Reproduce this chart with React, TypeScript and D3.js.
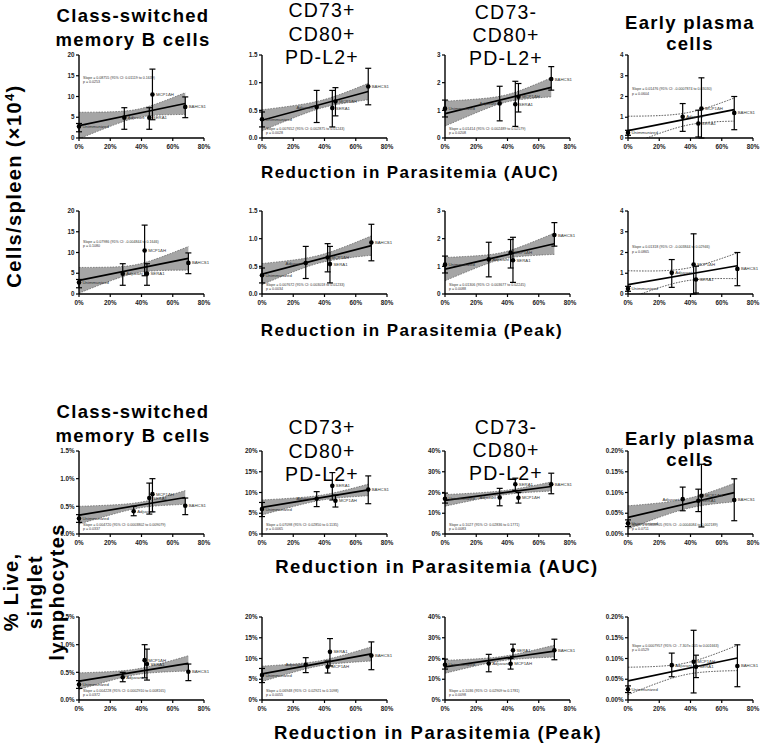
import React from "react";
import * as d3 from "d3";

// ---------- data ----------
const groups = ["Unimmunized", "Adjuvant", "SERA1", "MCP1ΔH", "BAHCS1"];
const xAuc = [0, 35, 45, 47, 68];
const xAucCsm = [0, 29, 45, 47, 68];
const xPeak = [0, 28, 43.5, 42, 70];
const xTickValues = [0, 20, 40, 60, 80];
const xTickLabels = ["0%", "20%", "40%", "60%", "80%"];

// Cells/spleen (x10^4)
const csmCells = [2.8, 4.9, 4.9, 10.5, 7.5];
const csmCellsLow = [1.5, 2.1, 2.1, 4.4, 4.9];
const csmCellsHigh = [3.5, 7.3, 7.3, 16.6, 9.9];
const cd73pCells = [0.34, 0.56, 0.54, 0.66, 0.93];
const cd73pCellsLow = [0.2, 0.28, 0.2, 0.4, 0.6];
const cd73pCellsHigh = [0.47, 0.86, 0.86, 0.91, 1.26];
const cd73nCells = [1.06, 1.25, 1.22, 1.49, 2.13];
const cd73nCellsLow = [0.76, 0.62, 0.42, 0.94, 1.73];
const cd73nCellsHigh = [1.37, 1.87, 2.05, 1.97, 2.58];
const epCells = [0.25, 1.02, 0.7, 1.42, 1.21];
const epCellsLow = [0.13, 0.32, 0.05, 0.0, 0.4];
const epCellsHigh = [0.37, 1.66, 1.34, 2.9, 2.0];

// % live, singlet lymphocytes
const csmPct = [0.28, 0.41, 0.65, 0.72, 0.51];
const csmPctLow = [0.21, 0.33, 0.36, 0.4, 0.35];
const csmPctHigh = [0.35, 0.5, 0.92, 1.0, 0.65];
const cd73pPct = [6.0, 8.5, 11.6, 8.0, 10.7];
const cd73pPctLow = [4.2, 6.6, 8.2, 6.5, 7.3];
const cd73pPctHigh = [7.6, 10.2, 14.8, 9.4, 14.0];
const cd73nPct = [17.0, 17.6, 24.0, 17.5, 24.0];
const cd73nPctLow = [14.9, 13.6, 21.0, 14.9, 19.4];
const cd73nPctHigh = [19.7, 22.0, 26.9, 20.0, 29.3];
const epPct = [0.026, 0.084, 0.08, 0.092, 0.082];
const epPctLow = [0.018, 0.056, 0.054, 0.017, 0.032];
const epPctHigh = [0.034, 0.113, 0.108, 0.168, 0.133];

// linear fits [intercept, slope]
const fitCsmCellsAuc = [3.0, 0.078];
const fitCd73pCellsAuc = [0.32, 0.00765];
const fitCd73nCellsAuc = [0.88, 0.014];
const fitEpCellsAuc = [0.35, 0.015];
const fitCsmCellsPeak = [3.3, 0.0757];
const fitCd73pCellsPeak = [0.36, 0.00736];
const fitCd73nCellsPeak = [0.9, 0.0131];
const fitEpCellsPeak = [0.45, 0.013];
const fitCsmPctAuc = [0.34, 0.0047];
const fitCd73pPctAuc = [6.4, 0.062];
const fitCd73nPctAuc = [16.2, 0.0985];
const fitEpPctAuc = [0.04, 0.00088];
const fitCsmPctPeak = [0.34, 0.0046];
const fitCd73pPctPeak = [6.3, 0.0686];
const fitCd73nPctPeak = [16.0, 0.108];
const fitEpPctPeak = [0.046, 0.00079];

// 95% CI half-width [at mean x, at x = 0]
const ciCsmCellsAuc = [1.0, 3.2];
const ciCd73pCellsAuc = [0.07, 0.19];
const ciCd73nCellsAuc = [0.13, 0.45];
const ciEpCellsAuc = [0.3, 0.7];
const ciCsmCellsPeak = [1.0, 3.1];
const ciCd73pCellsPeak = [0.07, 0.19];
const ciCd73nCellsPeak = [0.12, 0.42];
const ciEpCellsPeak = [0.3, 0.67];
const ciCsmPctAuc = [0.05, 0.16];
const ciCd73pPctAuc = [0.6, 1.8];
const ciCd73nPctAuc = [1.0, 2.8];
const ciEpPctAuc = [0.012, 0.028];
const ciCsmPctPeak = [0.05, 0.15];
const ciCd73pPctPeak = [0.6, 1.85];
const ciCd73nPctPeak = [1.0, 3.1];
const ciEpPctPeak = [0.014, 0.033];

// y ticks
const csmCellsTicks = [0, 5, 10, 15, 20];
const csmCellsTickLabels = ["0", "5", "10", "15", "20"];
const cd73pCellsTicks = [0, 0.5, 1, 1.5];
const cd73pCellsTickLabels = ["0.0", "0.5", "1.0", "1.5"];
const cd73nCellsTicks = [0, 1, 2, 3];
const cd73nCellsTickLabels = ["0", "1", "2", "3"];
const epCellsTicks = [0, 1, 2, 3, 4];
const epCellsTickLabels = ["0", "1", "2", "3", "4"];
const csmPctTicks = [0, 0.5, 1, 1.5];
const csmPctTickLabels = ["0.0%", "0.5%", "1.0%", "1.5%"];
const cd73pPctTicks = [0, 5, 10, 15, 20];
const cd73pPctTickLabels = ["0%", "5%", "10%", "15%", "20%"];
const cd73nPctTicks = [0, 10, 20, 30, 40];
const cd73nPctTickLabels = ["0%", "10%", "20%", "30%", "40%"];
const epPctTicks = [0, 0.05, 0.1, 0.15, 0.2];
const epPctTickLabels = ["0.00%", "0.05%", "0.10%", "0.15%", "0.20%"];

// regression annotations
const noteCsmCellsAuc = ["Slope = 0.08755 (95% CI: 0.01119 to 0.1639)", "p = 0.0253"];
const noteCd73pCellsAuc = ["Slope = 0.007652 (95% CI: 0.002875 to 0.01243)", "p = 0.0028"];
const noteCd73nCellsAuc = ["Slope = 0.01414 (95% CI: 0.002489 to 0.02579)", "p = 0.0208"];
const noteEpCellsAuc = ["Slope = 0.01476 (95% CI: -0.0007874 to 0.03030)", "p = 0.0604"];
const noteCsmCellsPeak = ["Slope = 0.07986 (95% CI: -0.004844 to 0.1646)", "p = 0.1080"];
const noteCd73pCellsPeak = ["Slope = 0.007672 (95% CI: 0.003018 to 0.01233)", "p = 0.0034"];
const noteCd73nCellsPeak = ["Slope = 0.01306 (95% CI: 0.003677 to 0.02245)", "p = 0.0088"];
const noteEpCellsPeak = ["Slope = 0.01318 (95% CI: -0.003844 to 0.02946)", "p = 0.0865"];
const noteCsmPctAuc = ["Slope = 0.004720 (95% CI: 0.0003802 to 0.009079)", "p = 0.0337"];
const noteCd73pPctAuc = ["Slope = 0.07098 (95% CI: 0.02850 to 0.1135)", "p = 0.0065"];
const noteCd73nPctAuc = ["Slope = 0.1027 (95% CI: 0.02836 to 0.1771)", "p = 0.0083"];
const noteEpPctAuc = ["Slope = 0.0008905 (95% CI: -0.0004084 to 0.002189)", "p = 0.0711"];
const noteCsmPctPeak = ["Slope = 0.004228 (95% CI: 0.0002910 to 0.008165)", "p = 0.0372"];
const noteCd73pPctPeak = ["Slope = 0.06948 (95% CI: 0.02921 to 0.1098)", "p = 0.0055"];
const noteCd73nPctPeak = ["Slope = 0.1036 (95% CI: 0.02909 to 0.1781)", "p = 0.0098"];
const noteEpPctPeak = ["Slope = 0.0007957 (95% CI: -7.307e-005 to 0.001663)", "p = 0.0529"];

// ---------- layout ----------
const FONT = "'Liberation Sans', Arial, Helvetica, sans-serif";
const colLeft = [79, 262, 445, 628];
const rowTop = [55, 211, 451, 617];
const PW = 125;
const PH = 83;

type PanelCfg = {
  row: number; col: number; xs: number[]; mean: number[]; low: number[]; high: number[];
  fit: number[]; ci: number[]; fill: boolean; ticks: number[]; tickLabels: string[];
  note: string[]; noteAt: number | null; leftLabels?: number[];
};

const panels: PanelCfg[] = [
  { row: 0, col: 0, xs: xAucCsm, mean: csmCells, low: csmCellsLow, high: csmCellsHigh, fit: fitCsmCellsAuc, ci: ciCsmCellsAuc, fill: true, ticks: csmCellsTicks, tickLabels: csmCellsTickLabels, note: noteCsmCellsAuc, noteAt: 14.2 },
  { row: 0, col: 1, xs: xAuc, mean: cd73pCells, low: cd73pCellsLow, high: cd73pCellsHigh, fit: fitCd73pCellsAuc, ci: ciCd73pCellsAuc, fill: true, ticks: cd73pCellsTicks, tickLabels: cd73pCellsTickLabels, note: noteCd73pCellsAuc, noteAt: null, leftLabels: [1] },
  { row: 0, col: 2, xs: xAuc, mean: cd73nCells, low: cd73nCellsLow, high: cd73nCellsHigh, fit: fitCd73nCellsAuc, ci: ciCd73nCellsAuc, fill: true, ticks: cd73nCellsTicks, tickLabels: cd73nCellsTickLabels, note: noteCd73nCellsAuc, noteAt: null, leftLabels: [1] },
  { row: 0, col: 3, xs: xAuc, mean: epCells, low: epCellsLow, high: epCellsHigh, fit: fitEpCellsAuc, ci: ciEpCellsAuc, fill: false, ticks: epCellsTicks, tickLabels: epCellsTickLabels, note: noteEpCellsAuc, noteAt: 2.3 },
  { row: 1, col: 0, xs: xPeak, mean: csmCells, low: csmCellsLow, high: csmCellsHigh, fit: fitCsmCellsPeak, ci: ciCsmCellsPeak, fill: true, ticks: csmCellsTicks, tickLabels: csmCellsTickLabels, note: noteCsmCellsPeak, noteAt: 12.4 },
  { row: 1, col: 1, xs: xPeak, mean: cd73pCells, low: cd73pCellsLow, high: cd73pCellsHigh, fit: fitCd73pCellsPeak, ci: ciCd73pCellsPeak, fill: true, ticks: cd73pCellsTicks, tickLabels: cd73pCellsTickLabels, note: noteCd73pCellsPeak, noteAt: null, leftLabels: [1] },
  { row: 1, col: 2, xs: xPeak, mean: cd73nCells, low: cd73nCellsLow, high: cd73nCellsHigh, fit: fitCd73nCellsPeak, ci: ciCd73nCellsPeak, fill: true, ticks: cd73nCellsTicks, tickLabels: cd73nCellsTickLabels, note: noteCd73nCellsPeak, noteAt: null },
  { row: 1, col: 3, xs: xPeak, mean: epCells, low: epCellsLow, high: epCellsHigh, fit: fitEpCellsPeak, ci: ciEpCellsPeak, fill: false, ticks: epCellsTicks, tickLabels: epCellsTickLabels, note: noteEpCellsPeak, noteAt: 2.2 },
  { row: 2, col: 0, xs: xAuc, mean: csmPct, low: csmPctLow, high: csmPctHigh, fit: fitCsmPctAuc, ci: ciCsmPctAuc, fill: true, ticks: csmPctTicks, tickLabels: csmPctTickLabels, note: noteCsmPctAuc, noteAt: null },
  { row: 2, col: 1, xs: xAuc, mean: cd73pPct, low: cd73pPctLow, high: cd73pPctHigh, fit: fitCd73pPctAuc, ci: ciCd73pPctAuc, fill: true, ticks: cd73pPctTicks, tickLabels: cd73pPctTickLabels, note: noteCd73pPctAuc, noteAt: null, leftLabels: [1] },
  { row: 2, col: 2, xs: xAuc, mean: cd73nPct, low: cd73nPctLow, high: cd73nPctHigh, fit: fitCd73nPctAuc, ci: ciCd73nPctAuc, fill: true, ticks: cd73nPctTicks, tickLabels: cd73nPctTickLabels, note: noteCd73nPctAuc, noteAt: null, leftLabels: [1] },
  { row: 2, col: 3, xs: xAuc, mean: epPct, low: epPctLow, high: epPctHigh, fit: fitEpPctAuc, ci: ciEpPctAuc, fill: true, ticks: epPctTicks, tickLabels: epPctTickLabels, note: noteEpPctAuc, noteAt: null, leftLabels: [1] },
  { row: 3, col: 0, xs: xPeak, mean: csmPct, low: csmPctLow, high: csmPctHigh, fit: fitCsmPctPeak, ci: ciCsmPctPeak, fill: true, ticks: csmPctTicks, tickLabels: csmPctTickLabels, note: noteCsmPctPeak, noteAt: null },
  { row: 3, col: 1, xs: xPeak, mean: cd73pPct, low: cd73pPctLow, high: cd73pPctHigh, fit: fitCd73pPctPeak, ci: ciCd73pPctPeak, fill: true, ticks: cd73pPctTicks, tickLabels: cd73pPctTickLabels, note: noteCd73pPctPeak, noteAt: null, leftLabels: [1] },
  { row: 3, col: 2, xs: xPeak, mean: cd73nPct, low: cd73nPctLow, high: cd73nPctHigh, fit: fitCd73nPctPeak, ci: ciCd73nPctPeak, fill: true, ticks: cd73nPctTicks, tickLabels: cd73nPctTickLabels, note: noteCd73nPctPeak, noteAt: null },
  { row: 3, col: 3, xs: xPeak, mean: epPct, low: epPctLow, high: epPctHigh, fit: fitEpPctPeak, ci: ciEpPctPeak, fill: false, ticks: epPctTicks, tickLabels: epPctTickLabels, note: noteEpPctPeak, noteAt: 0.128 },
];

function Panel({ p, idx }: { p: PanelCfg; idx: number }) {
  const left = colLeft[p.col];
  const top = rowTop[p.row];
  const yMax = p.ticks[p.ticks.length - 1];
  const x = d3.scaleLinear().domain([0, 80]).range([left, left + PW]);
  const y = d3.scaleLinear().domain([0, yMax]).range([top + PH, top]);
  const xm = d3.mean(p.xs) as number;
  const xmax = d3.max(p.xs) as number;
  const [b0, b1] = p.fit;
  const [hm, h0] = p.ci;
  const k = (h0 * h0 - hm * hm) / (xm * xm);
  const hw = (v: number) => Math.sqrt(hm * hm + k * (v - xm) * (v - xm));
  const grid = d3.range(0, xmax + 1e-6, xmax / 80);
  const area = d3.area<number>().x((d) => x(d)).y0((d) => y(b0 + b1 * d - hw(d))).y1((d) => y(b0 + b1 * d + hw(d)));
  const upper = d3.line<number>().x((d) => x(d)).y((d) => y(b0 + b1 * d + hw(d)));
  const lower = d3.line<number>().x((d) => x(d)).y((d) => y(b0 + b1 * d - hw(d)));
  const fitLine = d3.line<number>().x((d) => x(d)).y((d) => y(b0 + b1 * d));
  const clipId = `clip${idx}`;
  const noteY = p.noteAt == null ? top + PH - 8 : y(p.noteAt);
  const lw = p.fill ? 0.8 : 0.9;
  return (
    <g>
      <defs>
        <clipPath id={clipId}>
          <rect x={left} y={top} width={PW} height={PH} />
        </clipPath>
      </defs>
      <g clipPath={`url(#${clipId})`}>
        {p.fill && <path d={area(grid) || ""} fill="#a5a5a5" stroke="none" />}
        <path d={upper(grid) || ""} fill="none" stroke={p.fill ? "#666" : "#444"} strokeWidth={lw} strokeDasharray="1.6,1.2" />
        <path d={lower(grid) || ""} fill="none" stroke={p.fill ? "#666" : "#444"} strokeWidth={lw} strokeDasharray="1.6,1.2" />
        <path d={fitLine([0, xmax]) || ""} fill="none" stroke="#000" strokeWidth={1.7} />
      </g>
      <g fontSize={3.6} fill="#333">
        <text x={left + 4} y={noteY}>{p.note[0]}</text>
        <text x={left + 4} y={noteY + 4.3}>{p.note[1]}</text>
      </g>
      {p.mean.map((m, i) => {
        const cx = x(p.xs[i]);
        const left2 = p.leftLabels && p.leftLabels.includes(i);
        return (
          <g key={i}>
            <line x1={cx} x2={cx} y1={y(p.low[i])} y2={y(p.high[i])} stroke="#000" strokeWidth={1.2} />
            <line x1={cx - 3} x2={cx + 3} y1={y(p.low[i])} y2={y(p.low[i])} stroke="#000" strokeWidth={1.2} />
            <line x1={cx - 3} x2={cx + 3} y1={y(p.high[i])} y2={y(p.high[i])} stroke="#000" strokeWidth={1.2} />
            <circle cx={cx} cy={y(m)} r={2.3} fill="#000" />
            <text x={left2 ? cx - 3.5 : cx + 3.5} y={y(m) + 1.5} fontSize={4.3} fill="#333" textAnchor={left2 ? "end" : "start"}>
              {groups[i]}
            </text>
          </g>
        );
      })}
      <line x1={left} x2={left} y1={top} y2={top + PH} stroke="#000" strokeWidth={1.4} />
      <line x1={left} x2={left + PW} y1={top + PH} y2={top + PH} stroke="#000" strokeWidth={1.4} />
      {p.ticks.map((t, i) => (
        <g key={`y${i}`}>
          <line x1={left - 3} x2={left} y1={y(t)} y2={y(t)} stroke="#000" strokeWidth={1.2} />
          <text x={left - 4.5} y={y(t) + 2.2} fontSize={6.3} fontWeight="bold" textAnchor="end" fill="#222">
            {p.tickLabels[i]}
          </text>
        </g>
      ))}
      {xTickValues.map((t, i) => (
        <g key={`x${i}`}>
          <line x1={x(t)} x2={x(t)} y1={top + PH} y2={top + PH + 3} stroke="#000" strokeWidth={1.2} />
          <text x={x(t)} y={top + PH + 10.5} fontSize={6.3} fontWeight="bold" textAnchor="middle" fill="#222">
            {xTickLabels[i]}
          </text>
        </g>
      ))}
    </g>
  );
}

const titleBlocks = [
  { cx: 133, lines: ["Class-switched", "memory B cells"], ys: [15, 39], bold: true },
  { cx: 322, lines: ["CD73+", "CD80+", "PD-L2+"], ys: [10, 34, 57], bold: false },
  { cx: 506, lines: ["CD73-", "CD80+", "PD-L2+"], ys: [12, 35, 58], bold: false },
  { cx: 690, lines: ["Early plasma", "cells"], ys: [22, 43], bold: true },
];
// vertical offset of the second title row, per column
const titleRowOffsets = [
  [0, 0, 0, 0],
  [396, 417, 415, 416],
];

const xLabels = [
  { text: "Reduction in Parasitemia (AUC)", cx: 410, cy: 172, size: 17, sp: 1.4 },
  { text: "Reduction in Parasitemia (Peak)", cx: 412, cy: 330, size: 17, sp: 1.4 },
  { text: "Reduction in Parasitemia (AUC)", cx: 437, cy: 566, size: 18.5, sp: 1.5 },
  { text: "Reduction in Parasitemia (Peak)", cx: 438, cy: 732, size: 18.5, sp: 1.5 },
];

export default function App() {
  return (
    <svg
      width={762}
      height={745}
      style={{ position: "absolute", left: 0, top: 0, background: "#fff" }}
      fontFamily={FONT}
    >
      <rect x={0} y={0} width={762} height={745} fill="#fff" />
      {titleRowOffsets.map((offs, r) =>
        titleBlocks.map((b, c) =>
          b.lines.map((ln, i) => (
            <text
              key={`t${r}-${c}-${i}`}
              x={b.cx}
              y={b.ys[i] + offs[c] + (b.bold ? 6.6 : 7)}
              textAnchor="middle"
              fontSize={b.bold ? 18.5 : 19.5}
              fontWeight={b.bold ? "bold" : "normal"}
              letterSpacing={b.bold ? 1.3 : 1.2}
              fill="#000"
            >
              {ln}
            </text>
          ))
        )
      )}
      {panels.map((p, i) => (
        <Panel key={i} p={p} idx={i} />
      ))}
      {xLabels.map((l, i) => (
        <text key={`xl${i}`} x={l.cx} y={l.cy + l.size * 0.36} textAnchor="middle" fontSize={l.size} fontWeight="bold" letterSpacing={l.sp} fill="#000">
          {l.text}
        </text>
      ))}
      <text
        transform="translate(21,186) rotate(-90)"
        textAnchor="middle"
        fontSize={20}
        fontWeight="bold"
        letterSpacing={1.4}
        fill="#000"
      >
        Cells/spleen (×10<tspan dy={-7} fontSize={13}>4</tspan><tspan dy={7}>)</tspan>
      </text>
      <g transform="translate(0,592) rotate(-90)" fontSize={20} fontWeight="bold" letterSpacing={1.4} fill="#000" textAnchor="middle">
        <text x={0} y={18}>% Live,</text>
        <text x={0} y={42}>singlet</text>
        <text x={0} y={64}>lymphocytes</text>
      </g>
    </svg>
  );
}
